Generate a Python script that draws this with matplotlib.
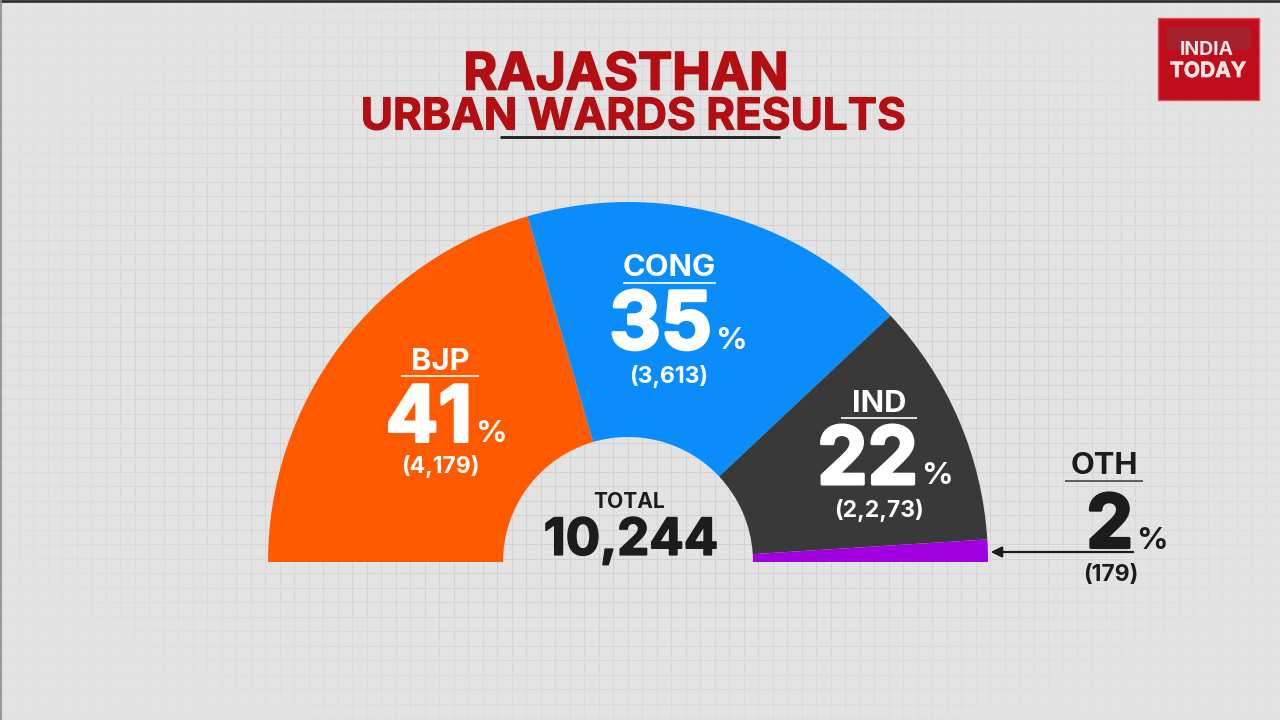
import numpy as np
import matplotlib
matplotlib.use('Agg')
import matplotlib.pyplot as plt
import matplotlib.patheffects as pe
from matplotlib.patches import Rectangle

# chart values
parties = ['BJP', 'CONG', 'IND', 'OTH']
shares = [41, 35, 22, 2]
seats = ['(4,179)', '(3,613)', '(2,2,73)', '(179)']
total = '10,244'
colors = ['#ff5a00', '#0a8dfb', '#393939', '#a000e0']

plt.rcParams['font.family'] = ['Inter', 'DejaVu Sans']


def y_(y):
    # picture rows count from the top, the axes from the bottom
    return 720 - y


def put(x, y, s, px, color, stroke=0, **kw):
    t = ax.text(x, y_(y), s, fontsize=px * 0.72, color=color, fontweight='bold',
                ha=kw.pop('ha', 'center'), va=kw.pop('va', 'center'), **kw)
    if stroke:
        t.set_path_effects([pe.withStroke(linewidth=stroke, foreground=color)])
    return t


def rule(x0, x1, y, color, lw=1.2):
    ax.plot([x0, x1], [y_(y), y_(y)], color=color, lw=lw, solid_capstyle='butt')


fig = plt.figure(figsize=(12.8, 7.2), dpi=100, facecolor='#e3e3e3')
ax = fig.add_axes([0, 0, 1, 1])

# half ring, the hidden second half of the pie stays below the centre line
wedges, _ = ax.pie(shares + [sum(shares)], colors=colors + ['none'], startangle=180,
                   counterclock=False, radius=360, center=(628, y_(562)),
                   wedgeprops={'width': 235, 'linewidth': 0})
wedges[-1].set_visible(False)
ax.set_xlim(0, 1280)
ax.set_ylim(0, 720)
ax.set_aspect('auto')
ax.axis('off')

# faint squared paper, fading out to the corners
for x in np.arange(4, 1280, 14.5):
    ax.axvline(x, color='#d2d2d2', lw=0.8, zorder=0)
for y in np.arange(2, 720, 14.5):
    ax.axhline(y, color='#d2d2d2', lw=0.8, zorder=0)
gx, gy = np.meshgrid(np.linspace(-1, 1, 160), np.linspace(-1, 1, 90))
fade = np.zeros((90, 160, 4))
fade[..., :3] = 0xe3 / 255
fade[..., 3] = np.clip((gx ** 2 + gy ** 2 - 0.3) / 1.1, 0, 0.95)
ax.imshow(fade, extent=(0, 1280, 0, 720), aspect='auto', zorder=0.5, interpolation='bilinear')
ax.set_xlim(0, 1280)
ax.set_ylim(0, 720)

# dark frame at the top and left of the frame grab
rule(0, 1280, 0.5, '#333333', lw=2)
ax.plot([0.5, 0.5], [0, 720], color='#888888', lw=1.2)

# title
red = '#b30f12'
put(626, 76, 'RAJASTHAN', 51.5, red, stroke=1.2)
put(633, 118, 'URBAN WARDS RESULTS', 44, red, stroke=0.8)
rule(500, 780, 136.5, '#1c1c1c', lw=2)

# logo
ax.add_patch(Rectangle((1158, y_(100)), 101, 82, fc='#bf0d1c', ec='#e0505a', lw=1, zorder=3))
ax.add_patch(Rectangle((1167, y_(50)), 83, 23, fc='#a3222c', lw=0, zorder=3.1))
put(1207, 50, 'INDIA', 19.5, '#f0e4e4', zorder=4)
put(1208, 71, 'TODAY', 21, '#f0e4e4', stroke=0.5, zorder=4)

# labels on the ring: centre x, name y, rule y, percent y, seats y, percent right edge
label_pos = [(440, 362, 376, 421, 467, 472), (669, 268, 283, 328, 376, 712),
             (879, 404, 418, 463, 510, 918), (1104, 466, 481, 528, 575, 1133)]
widths = [78, 93, 76, 78]
inks = ['white', 'white', 'white', '#1c1c1c']
big_px = [78, 80, 80, 74]
for i in range(4):
    cx, ny, ry, py, sy, right = label_pos[i]
    put(cx, ny, parties[i], 31, inks[i])
    rule(cx - widths[i] / 2, cx + widths[i] / 2, ry, inks[i] if i < 3 else '#444444')
    put(right, py, str(shares[i]), big_px[i], inks[i], stroke=2.2, ha='right')
    put(right + 3, py + 13, '%', 31, inks[i], ha='left')
    put(cx if i != 3 else 1111, sy, seats[i], 23, inks[i])

# centre total
put(629, 502, 'TOTAL', 21, '#1c1c1c')
put(631, 541, total, 51, '#1c1c1c', stroke=1.2)

# arrow from the OTH label to its sliver
ax.annotate('', xy=(988, y_(552)), xytext=(1136, y_(552)),
            arrowprops=dict(arrowstyle='-|>', color='#1c1c1c', lw=1.6, mutation_scale=16))

fig.savefig('out.png', dpi=100, facecolor=fig.get_facecolor())
